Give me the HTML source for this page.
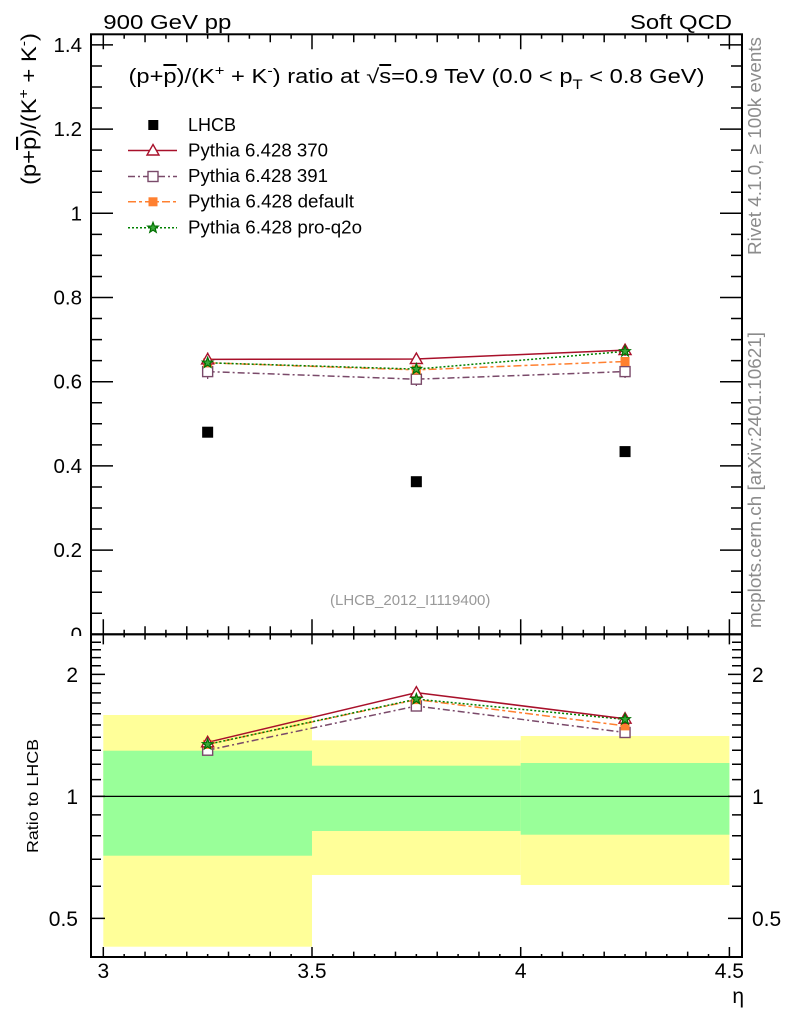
<!DOCTYPE html>
<html><head><meta charset="utf-8"><style>html,body{margin:0;padding:0;background:#fff}svg{display:block}</style></head>
<body>
<svg width="786" height="1024" viewBox="0 0 786 1024" xmlns="http://www.w3.org/2000/svg" font-family="'Liberation Sans', Arial, sans-serif">
<defs>
<clipPath id="c0"><rect x="0" y="0" width="90" height="636"/></clipPath>
<path id="tri" d="M0,-6 L6,4.5 L-6,4.5 Z" fill="#fff" stroke="#a8102a" stroke-width="1.4"/>
<rect id="osq" x="-5" y="-5" width="10" height="10" fill="#fff" stroke="#7a4a6a" stroke-width="1.4"/>
<rect id="fsq" x="-4.5" y="-4.5" width="9" height="9" fill="#ff8030"/>
<polygon id="star" points="0,-5.5 1.35,-1.86 5.23,-1.7 2.19,0.71 3.23,4.45 0,2.3 -3.23,4.45 -2.19,0.71 -5.23,-1.7 -1.35,-1.86" fill="#3aa83a" stroke="#007000" stroke-width="1.2"/>
</defs>
<rect width="786" height="1024" fill="#fff"/>

<!-- ratio bands -->
<rect x="103.3" y="715" width="208.7" height="231.7" fill="#ffff99"/>
<rect x="312" y="740.3" width="208.7" height="134.7" fill="#ffff99"/>
<rect x="520.7" y="736" width="208.7" height="149" fill="#ffff99"/>
<rect x="103.3" y="750.7" width="208.7" height="105" fill="#99ff99"/>
<rect x="312" y="765.7" width="208.7" height="65.3" fill="#99ff99"/>
<rect x="520.7" y="763" width="208.7" height="71.7" fill="#99ff99"/>
<line x1="91" y1="796.4" x2="742" y2="796.4" stroke="#000" stroke-width="1.3"/>

<!-- frames -->
<rect x="91" y="34.3" width="651" height="600" fill="none" stroke="#000" stroke-width="2"/>
<rect x="91" y="634.3" width="651" height="322.7" fill="none" stroke="#000" stroke-width="2"/>

<!-- main y ticks -->
<g id="ylt" stroke="#000" stroke-width="1.5" fill="none">
<path d="M91 613.25h11 M91 592.2h11 M91 571.15h11 M91 529.05h11 M91 508h11 M91 486.95h11 M91 444.85h11 M91 423.8h11 M91 402.75h11 M91 360.65h11 M91 339.6h11 M91 318.55h11 M91 276.45h11 M91 255.4h11 M91 234.35h11 M91 192.25h11 M91 171.2h11 M91 150.15h11 M91 108.05h11 M91 87h11 M91 65.95h11"/>
<path d="M91 550.1h22 M91 465.9h22 M91 381.7h22 M91 297.5h22 M91 213.3h22 M91 129.1h22 M91 44.9h22"/>
</g>
<use href="#ylt" transform="translate(833,0) scale(-1,1)"/>

<!-- main x ticks -->
<g id="xmt" stroke="#000" stroke-width="1.5" fill="none">
<path d="M103.3 634.3v-15 M124.17 634.3v-4.5 M145.04 634.3v-8 M165.91 634.3v-4.5 M186.78 634.3v-8 M207.65 634.3v-4.5 M228.52 634.3v-8 M249.39 634.3v-4.5 M270.26 634.3v-8 M291.13 634.3v-4.5 M312 634.3v-15 M332.87 634.3v-4.5 M353.74 634.3v-8 M374.61 634.3v-4.5 M395.48 634.3v-8 M416.35 634.3v-4.5 M437.22 634.3v-8 M458.09 634.3v-4.5 M478.96 634.3v-8 M499.83 634.3v-4.5 M520.7 634.3v-15 M541.57 634.3v-4.5 M562.44 634.3v-8 M583.31 634.3v-4.5 M604.18 634.3v-8 M625.05 634.3v-4.5 M645.92 634.3v-8 M666.79 634.3v-4.5 M687.66 634.3v-8 M708.53 634.3v-4.5 M729.4 634.3v-15"/>
</g>
<use href="#xmt" transform="translate(0,668.6) scale(1,-1)"/>
<use href="#xmt" transform="translate(0,634.3) scale(1,-0.67) translate(0,-634.3)"/>
<use href="#xmt" transform="translate(0,957) scale(1,0.67) translate(0,-634.3)"/>

<!-- ratio y ticks -->
<g id="rlt" stroke="#000" stroke-width="1.5" fill="none">
<path d="M91 886.3h10 M91 859.2h10 M91 835.7h10 M91 814.9h10 M91 779.6h10 M91 764.3h10 M91 750.2h10 M91 737.2h10 M91 725h10 M91 713.7h10 M91 703h10 M91 692.9h10 M91 683.4h10 M91 665.8h10 M91 657.6h10 M91 649.8h10 M91 642.3h10"/>
<path d="M91 918.4h14 M91 796.4h14 M91 674.4h14"/>
</g>
<use href="#rlt" transform="translate(833,0) scale(-1,1)"/>

<!-- main y tick labels -->
<g font-size="20.5" text-anchor="end" fill="#000">
<text x="82" y="641.3" clip-path="url(#c0)">0</text>
<text x="82" y="557.1">0.2</text>
<text x="82" y="472.9">0.4</text>
<text x="82" y="388.7">0.6</text>
<text x="82" y="304.5">0.8</text>
<text x="82" y="220.3">1</text>
<text x="82" y="136.1">1.2</text>
<text x="82" y="51.9">1.4</text>
</g>
<!-- ratio y tick labels -->
<g font-size="21" fill="#000">
<text x="78" y="681.9" text-anchor="end">2</text>
<text x="78" y="803.9" text-anchor="end">1</text>
<text x="78" y="925.9" text-anchor="end">0.5</text>
<text x="752" y="681.9">2</text>
<text x="752" y="803.9">1</text>
<text x="752" y="925.9">0.5</text>
</g>
<!-- x tick labels -->
<g font-size="21" text-anchor="middle" fill="#000">
<text x="103.3" y="978">3</text>
<text x="312" y="978">3.5</text>
<text x="520.7" y="978">4</text>
<text x="729.4" y="978">4.5</text>
</g>
<text x="744" y="1003" font-size="21" text-anchor="end">η</text>

<!-- header texts -->
<text x="103.3" y="29" font-size="20" textLength="128" lengthAdjust="spacingAndGlyphs">900 GeV pp</text>
<text x="630" y="29" font-size="20" textLength="102" lengthAdjust="spacingAndGlyphs">Soft QCD</text>
<text x="128.5" y="83" font-size="20" textLength="576" lengthAdjust="spacingAndGlyphs">(p+<tspan style="text-decoration:overline">p</tspan>)/(K<tspan dy="-8" font-size="14">+</tspan><tspan dy="8"> + K</tspan><tspan dy="-8" font-size="14">-</tspan><tspan dy="8">) ratio at √</tspan><tspan style="text-decoration:overline">s</tspan>=0.9 TeV (0.0 &lt; p<tspan dy="6" font-size="14">T</tspan><tspan dy="-6"> &lt; 0.8 GeV)</tspan></text>

<!-- y axis labels -->
<text transform="translate(36,185) rotate(-90)" font-size="21" textLength="152" lengthAdjust="spacingAndGlyphs">(p+<tspan style="text-decoration:overline">p</tspan>)/(K<tspan dy="-8" font-size="14">+</tspan><tspan dy="8"> + K</tspan><tspan dy="-8" font-size="14">-</tspan><tspan dy="8">)</tspan></text>
<text transform="translate(38,853) rotate(-90)" font-size="15.5" textLength="114" lengthAdjust="spacingAndGlyphs">Ratio to LHCB</text>

<!-- right side grey texts -->
<text transform="translate(761,255) rotate(-90)" font-size="18.5" fill="#8c8c8c" textLength="218" lengthAdjust="spacingAndGlyphs">Rivet 4.1.0, ≥ 100k events</text>
<text transform="translate(761,628) rotate(-90)" font-size="18.5" fill="#8c8c8c" textLength="296" lengthAdjust="spacingAndGlyphs">mcplots.cern.ch [arXiv:2401.10621]</text>
<text x="330" y="605" font-size="15" fill="#999">(LHCB_2012_I1119400)</text>

<!-- legend -->
<rect x="148.3" y="120" width="10" height="10" fill="#000"/>
<line x1="128" y1="150.5" x2="177" y2="150.5" stroke="#a8102a" stroke-width="1.5"/>
<use href="#tri" x="153" y="150.5"/>
<line x1="128" y1="176.5" x2="177" y2="176.5" stroke="#7a4a6a" stroke-width="1.5" stroke-dasharray="7,3,2,3"/>
<use href="#osq" x="153" y="176.5"/>
<line x1="128" y1="201.8" x2="177" y2="201.8" stroke="#ff8030" stroke-width="1.5" stroke-dasharray="8,3,3,3"/>
<use href="#fsq" x="153" y="201.8"/>
<line x1="128" y1="227.8" x2="177" y2="227.8" stroke="#008000" stroke-width="1.5" stroke-dasharray="2,2"/>
<use href="#star" x="153" y="227.8"/>
<g font-size="18" fill="#000">
<text x="188" y="131" textLength="48" lengthAdjust="spacingAndGlyphs">LHCB</text>
<text x="188" y="156.5" textLength="140" lengthAdjust="spacingAndGlyphs">Pythia 6.428 370</text>
<text x="188" y="182" textLength="140" lengthAdjust="spacingAndGlyphs">Pythia 6.428 391</text>
<text x="188" y="207.5" textLength="166" lengthAdjust="spacingAndGlyphs">Pythia 6.428 default</text>
<text x="188" y="233.5" textLength="174" lengthAdjust="spacingAndGlyphs">Pythia 6.428 pro-q2o</text>
</g>

<!-- main plot data -->
<g fill="none" stroke-width="1.5">
<polyline points="207.65,371.6 416.35,379.2 625.05,371.6" stroke="#7a4a6a" stroke-dasharray="7,3,2,3"/>
<polyline points="207.65,362.8 416.35,369.9 625.05,361.5" stroke="#ff8030" stroke-dasharray="8,3,3,3"/>
<polyline points="207.65,362.8 416.35,369.1 625.05,351.4" stroke="#008000" stroke-dasharray="2,2"/>
<polyline points="207.65,359.4 416.35,359.0 625.05,350.1" stroke="#a8102a"/>
</g>
<g stroke-width="1.3">
<path d="M207.65 352.5v14 M416.35 353v12 M625.05 344v12" stroke="#a8102a"/>
<path d="M207.65 365v14 M416.35 373v13 M625.05 365v13" stroke="#7a4a6a"/>
</g>
<use href="#osq" x="207.65" y="371.6"/><use href="#osq" x="416.35" y="379.2"/><use href="#osq" x="625.05" y="371.6"/>
<use href="#fsq" x="207.65" y="362.8"/><use href="#fsq" x="416.35" y="369.9"/><use href="#fsq" x="625.05" y="361.5"/>
<use href="#tri" x="207.65" y="359.4"/><use href="#tri" x="416.35" y="359.0"/><use href="#tri" x="625.05" y="350.1"/>
<use href="#star" x="207.65" y="362.8"/><use href="#star" x="416.35" y="369.1"/><use href="#star" x="625.05" y="351.4"/>
<rect x="202.15" y="426.7" width="11" height="11" fill="#000"/>
<rect x="410.85" y="476.2" width="11" height="11" fill="#000"/>
<rect x="619.55" y="446.1" width="11" height="11" fill="#000"/>

<!-- ratio data -->
<g fill="none" stroke-width="1.5">
<polyline points="207.65,750.2 416.35,706.0 625.05,732.5" stroke="#7a4a6a" stroke-dasharray="7,3,2,3"/>
<polyline points="207.65,744.4 416.35,699.6 625.05,725.9" stroke="#ff8030" stroke-dasharray="8,3,3,3"/>
<polyline points="207.65,744.4 416.35,699.1 625.05,719.4" stroke="#008000" stroke-dasharray="2,2"/>
<polyline points="207.65,742.3 416.35,692.6 625.05,718.7" stroke="#a8102a"/>
</g>
<use href="#osq" x="207.65" y="750.2"/><use href="#osq" x="416.35" y="706.0"/><use href="#osq" x="625.05" y="732.5"/>
<use href="#fsq" x="207.65" y="744.4"/><use href="#fsq" x="416.35" y="699.6"/><use href="#fsq" x="625.05" y="725.9"/>
<use href="#tri" x="207.65" y="742.3"/><use href="#tri" x="416.35" y="692.6"/><use href="#tri" x="625.05" y="718.7"/>
<use href="#star" x="207.65" y="744.4"/><use href="#star" x="416.35" y="699.1"/><use href="#star" x="625.05" y="719.4"/>
</svg>
</body></html>
